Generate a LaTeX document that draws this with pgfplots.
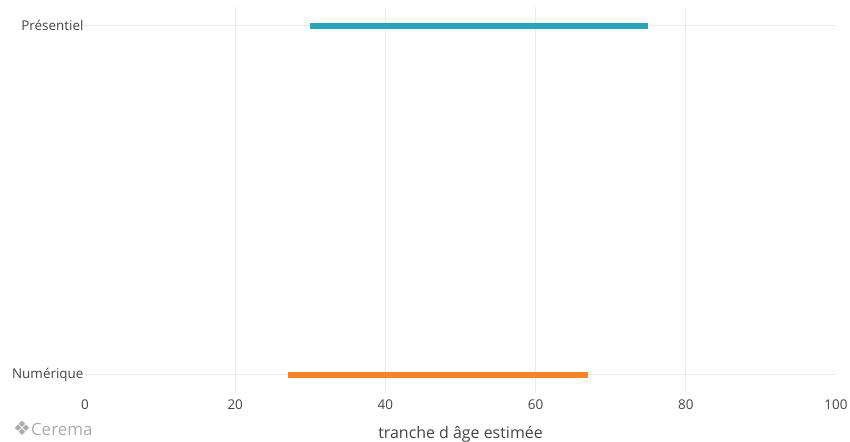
\documentclass[border=0pt]{standalone}
\usepackage{pgfplots}
\pgfplotsset{compat=1.18}
\usepackage{fontspec}
\setmainfont{Open Sans}
\newfontfamily\symfont{DejaVu Sans}
\definecolor{teal1}{HTML}{2CA3B7}
\definecolor{orange1}{HTML}{F5852A}
\definecolor{txt}{HTML}{444444}
\definecolor{gridc}{HTML}{EBEBEB}
\begin{document}
\begin{tikzpicture}
\path[use as bounding box] (0,0) rectangle (850bp,442bp);
\begin{axis}[
  scale only axis,
  width=751bp, height=386bp,
  at={(85bp,49bp)}, anchor=south west,
  xmin=0, xmax=100,
  ymin=-0.052, ymax=1.054,
  axis line style={draw=none},
  tick style={draw=none},
  xtick={20,40,60,80},
  extra x ticks={0,100},
  extra x tick style={grid=none},
  ytick={0,1},
  yticklabels={Numérique,Présentiel},
  grid=major,
  major grid style={gridc, line width=0.8bp},
  /pgf/number format/assume math mode=true,
  ticklabel style={font=\fontsize{13.5}{15}\selectfont, text=txt},
  xticklabel style={yshift=-3bp},
  yticklabel style={xshift=2bp},
  xlabel={tranche d âge estimée},
  xlabel style={font=\fontsize{16}{18}\selectfont, text=txt, yshift=-10bp},
  clip=false,
]
\addplot[teal1, line width=5.5bp] coordinates {(30,1) (75,1)};
\addplot[orange1, line width=5.5bp] coordinates {(27,0) (67,0)};
\end{axis}
\node[anchor=west, text=gray!65, font=\fontsize{17}{18}\selectfont, inner sep=0pt] at (13bp,14bp) {{\symfont\fontsize{20}{20}\selectfont ❖}Cerema};
\end{tikzpicture}
\end{document}
